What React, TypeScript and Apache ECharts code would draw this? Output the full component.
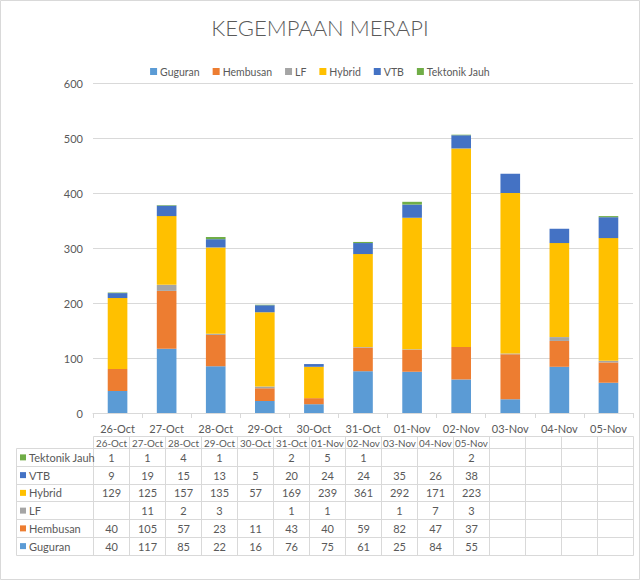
import React, { useEffect, useRef } from "react";
import * as echarts from "echarts";

const categories = ["26-Oct", "27-Oct", "28-Oct", "29-Oct", "30-Oct", "31-Oct", "01-Nov", "02-Nov", "03-Nov", "04-Nov", "05-Nov"];
const guguran = [40, 117, 85, 22, 16, 76, 75, 61, 25, 84, 55];
const hembusan = [40, 105, 57, 23, 11, 43, 40, 59, 82, 47, 37];
const lf = [null, 11, 2, 3, null, 1, 1, null, 1, 7, 3];
const hybrid = [129, 125, 157, 135, 57, 169, 239, 361, 292, 171, 223];
const vtb = [9, 19, 15, 13, 5, 20, 24, 24, 35, 26, 38];
const tektonikJauh = [1, 1, 4, 1, null, 2, 5, 1, null, null, 2];
const yTicks = [0, 100, 200, 300, 400, 500, 600];
const seriesNames = ["Guguran", "Hembusan", "LF", "Hybrid", "VTB", "Tektonik Jauh"];
const seriesColors = ["#5B9BD5", "#ED7D31", "#A5A5A5", "#FFC000", "#4472C4", "#70AD47"];
const seriesData = [guguran, hembusan, lf, hybrid, vtb, tektonikJauh];

const FONT = "Lato, 'DejaVu Sans', sans-serif";
const TXT = "#595959";
const LINE = "#D9D9D9";

function buildTable() {
  const els: any[] = [];
  const x0 = 93.5;
  const colW = 36;
  const nCols = 15;
  const legX = 16.5;
  const headTop = 436.5;
  const bodyTop = 448.5;
  const rowH = 17.75;
  const rows = seriesNames.map((n, i) => i).reverse();
  const xEnd = x0 + colW * nCols;
  const bodyBottom = Math.floor(bodyTop + rowH * rows.length) + 0.5;
  els.push({ type: "line", shape: { x1: x0, y1: headTop, x2: xEnd, y2: headTop }, style: { stroke: LINE, lineWidth: 1 }, silent: true });
  for (let r = 0; r <= rows.length; r++) {
    const yy = r === 0 ? bodyTop : Math.floor(bodyTop + r * rowH) + 0.5;
    els.push({ type: "line", shape: { x1: legX, y1: yy, x2: xEnd, y2: yy }, style: { stroke: LINE, lineWidth: 1 }, silent: true });
  }
  els.push({ type: "line", shape: { x1: legX, y1: bodyTop, x2: legX, y2: bodyBottom }, style: { stroke: LINE, lineWidth: 1 }, silent: true });
  for (let c = 0; c <= nCols; c++) {
    const x = x0 + c * colW;
    els.push({ type: "line", shape: { x1: x, y1: headTop, x2: x, y2: bodyBottom }, style: { stroke: LINE, lineWidth: 1 }, silent: true });
  }
  categories.forEach((cat, c) => {
    els.push({
      type: "text", x: x0 + c * colW + colW / 2, y: (headTop + bodyTop) / 2 + 0.5, silent: true,
      style: { text: cat, fill: TXT, font: `9.8px ${FONT}`, textAlign: "center", textVerticalAlign: "middle" },
    });
  });
  rows.forEach((si, r) => {
    const cy = bodyTop + r * rowH + rowH / 2;
    els.push({ type: "rect", shape: { x: 20, y: cy - 3, width: 6, height: 6 }, style: { fill: seriesColors[si] }, silent: true });
    els.push({
      type: "text", x: 29, y: cy, silent: true,
      style: { text: seriesNames[si], fill: TXT, font: `11px ${FONT}`, textAlign: "left", textVerticalAlign: "middle" },
    });
    seriesData[si].forEach((v, c) => {
      if (v === null || v === undefined) return;
      els.push({
        type: "text", x: x0 + c * colW + colW / 2, y: cy, silent: true,
        style: { text: String(v), fill: TXT, font: `11px ${FONT}`, textAlign: "center", textVerticalAlign: "middle" },
      });
    });
  });
  els.push({ type: "rect", shape: { x: 0.5, y: 0.5, width: 639, height: 579 }, style: { fill: "none", stroke: LINE, lineWidth: 1 }, silent: true, z: -1 });
  return els;
}

export default function App() {
  const ref = useRef<HTMLDivElement>(null);
  useEffect(() => {
    if (!ref.current) return;
    const chart = echarts.init(ref.current, null, { renderer: "svg" });
    chart.setOption({
      animation: false,
      backgroundColor: "#ffffff",
      title: {
        text: "KEGEMPAAN MERAPI",
        left: "center",
        top: 11,
        textStyle: { fontFamily: FONT, fontSize: 22, fontWeight: 300, color: TXT },
      },
      legend: {
        data: seriesNames,
        top: 61,
        left: "center",
        icon: "rect",
        itemWidth: 7,
        itemHeight: 7,
        itemGap: 13,
        textStyle: { fontFamily: FONT, fontSize: 10.5, color: TXT, padding: [0, 0, 0, -2] },
      },
      grid: { left: 93, right: 7, top: 83, height: 330, containLabel: false },
      xAxis: {
        type: "category",
        data: categories,
        axisLine: { lineStyle: { color: LINE } },
        axisTick: { show: true, length: 5, lineStyle: { color: LINE } },
        axisLabel: { fontFamily: FONT, fontSize: 11, color: TXT, margin: 10 },
      },
      yAxis: {
        type: "value",
        min: yTicks[0],
        max: yTicks[yTicks.length - 1],
        interval: 100,
        axisLine: { show: false },
        axisTick: { show: false },
        axisLabel: { fontFamily: FONT, fontSize: 11, color: TXT, margin: 10 },
        splitLine: { lineStyle: { color: LINE, width: 1 } },
      },
      series: seriesNames.map((name, i) => ({
        name,
        type: "bar",
        stack: "total",
        barWidth: "40%",
        data: seriesData[i],
        itemStyle: { color: seriesColors[i] },
      })),
      graphic: buildTable(),
    });
    return () => chart.dispose();
  }, []);
  return <div ref={ref} style={{ position: "absolute", left: 0, top: 0, width: 640, height: 580 }} />;
}
